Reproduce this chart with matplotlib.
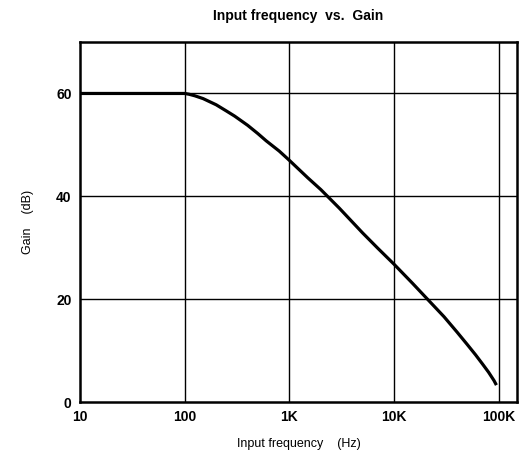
import numpy as np
import matplotlib.pyplot as plt

plt.rcParams['font.family'] = ['Liberation Sans', 'DejaVu Sans']

freq_hz = [10, 100, 110, 125, 150, 200, 250, 300, 400, 500, 600, 800, 1000, 1500,
           2000, 3000, 5000, 7000, 10000, 15000, 20000, 30000, 40000, 50000,
           60000, 70000, 80000, 90000, 95000]
gain_db = [60, 60, 59.85, 59.55, 59.0, 57.8, 56.6, 55.6, 53.8, 52.2, 50.8, 48.8, 47.0, 43.6,
           41.3, 37.7, 32.9, 29.9, 26.8, 23.1, 20.4, 16.6, 13.6, 11.2,
           9.2, 7.4, 5.8, 4.2, 3.3]

xticks = [10, 100, 1000, 10000, 100000]
xtick_labels = ["10", "100", "1K", "10K", "100K"]
yticks = [0, 20, 40, 60]

fig = plt.figure(figsize=(5.28, 4.67), dpi=100)
ax = fig.add_axes([0.1515, 0.139, 0.828, 0.771])

ax.plot(freq_hz, gain_db, color="black", linewidth=2.3, solid_capstyle="butt",
        solid_joinstyle="round", zorder=3)

ax.set_xscale("log")
ax.set_xlim(10, 150000)
ax.set_ylim(0, 70)

ax.set_xticks(xticks)
ax.set_xticklabels(xtick_labels, fontsize=10, fontweight="bold")
ax.minorticks_off()
ax.set_yticks(yticks)
ax.set_yticklabels([str(v) for v in yticks], fontsize=10, fontweight="bold")
ax.tick_params(length=0, pad=6)

for x in xticks[1:]:
    ax.axvline(x, color="black", linewidth=1.0, zorder=1)
for y in yticks[1:]:
    ax.axhline(y, color="black", linewidth=1.0, zorder=1)

for s in ax.spines.values():
    s.set_linewidth(1.8)

ax.set_title("Input frequency  vs.  Gain", fontsize=10, fontweight="bold", pad=16)
ax.set_xlabel("Input frequency    (Hz)", fontsize=9, labelpad=10)
ax.set_ylabel("Gain    (dB)", fontsize=9, labelpad=16)

fig.savefig("out.png", dpi=100)
